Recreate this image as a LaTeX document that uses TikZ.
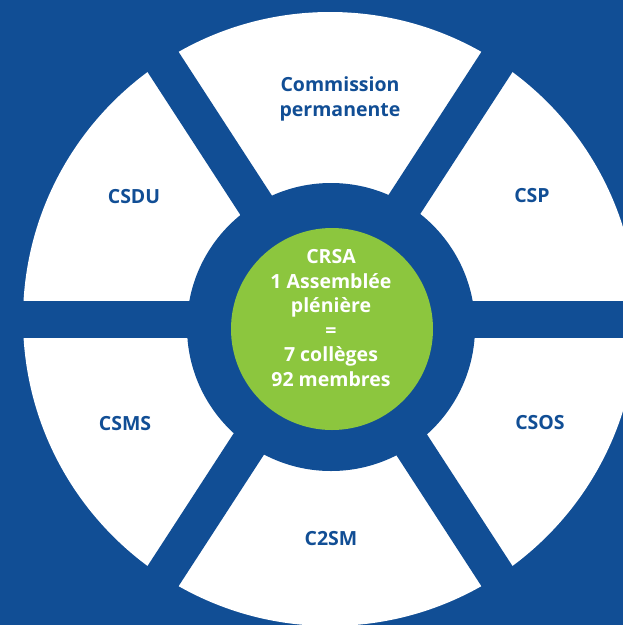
\documentclass[tikz,border=0pt]{standalone}
\usepackage{fontspec}
\setmainfont{Open Sans}
\definecolor{crsablue}{HTML}{114E95}
\definecolor{crsagreen}{HTML}{8CC63E}
\tikzset{
    college/.style={text=crsablue, font=\bfseries\fontsize{19.5}{24.5}\selectfont, align=center},
    plenary/.style={text=white, font=\bfseries\fontsize{19.5}{24.5}\selectfont, align=center}
}
\begin{document}
\begin{tikzpicture}[x=1pt,y=-1pt]

\useasboundingbox (0,0) rectangle (623,625);
\fill[crsablue] (0,0) rectangle (623,625);

\coordinate (hub) at (330,319);
\fill[white] (hub) circle (307);


\foreach \a in {0,57,123} {
        \draw[crsablue, line width=37pt] (hub) ++(\a:340) -- ++(\a+180:680);
 }


\fill[crsablue] (331,327) circle (144);
\fill[crsagreen] (332,329) circle (101);

\node[plenary] (crsa) at (331,318) {CRSA\\1 Assemblée\\plénière\\=\\7 collèges\\92 membres};

\node[college] (cp) at (340,99) {Commission\\permanente};
\node[college] (csdu) at (134,197) {CSDU};
\node[college] (csp) at (532,196) {CSP};
\node[college] (csms) at (125,424) {CSMS};
\node[college] (csos) at (540,423) {CSOS};
\node[college] (c2sm) at (331,539) {C2SM};
\end{tikzpicture}
\end{document}
